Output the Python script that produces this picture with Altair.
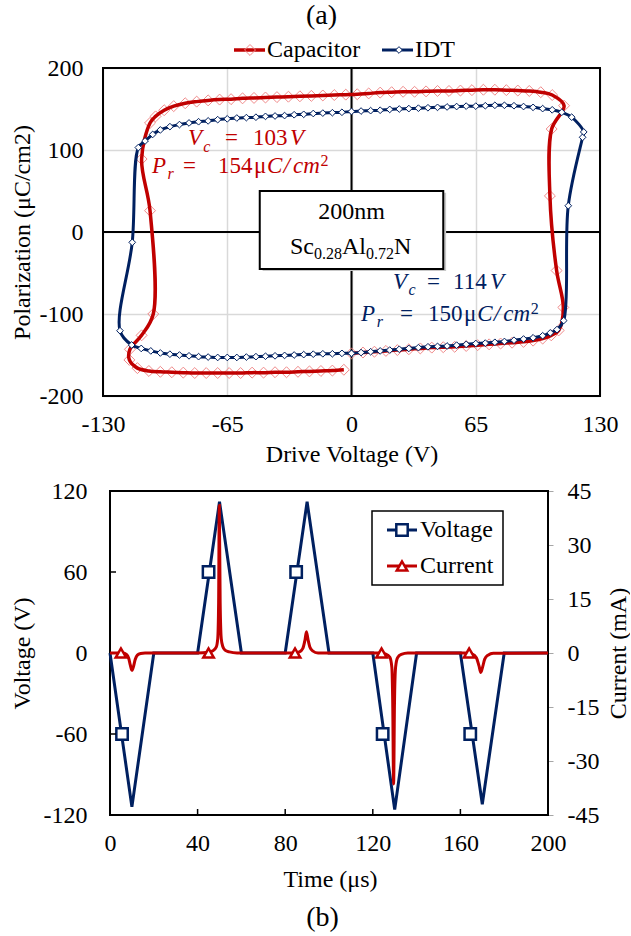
import altair as alt
import pandas as pd

# ---------------- (a) P-V hysteresis loops (measurement order) ----------------
cap_v = [0, 6, 12, 18, 24, 30, 36, 42, 48, 54, 60, 66, 72, 78, 84, 90, 95, 100, 104.5, 108.4,
         110.8, 107.3, 103.8, 104.7, 111.2,
         105, 99, 93, 87, 81, 75, 69, 63, 57, 51, 45, 39, 33, 27, 21, 15, 9, 3, -3, -9, -15,
         -21, -27, -33, -39, -45, -51, -57, -63, -69, -75, -81, -87, -93, -98, -102.5, -105.4,
         -109.8, -105.4, -103.7, -109.8, -115.9, -116.2, -112,
         -106, -100, -94, -88, -82, -76, -70, -64, -58, -52, -46, -40, -34, -28, -22, -16, -10, -4]
cap_p = [-148, -147, -146, -145, -144, -143, -142, -141, -140.5, -140, -139, -138, -137, -136,
         -135, -134, -132.5, -130, -126, -120,
         -92, -47, 44, 125.6, 154,
         167, 170.5, 172, 172.5, 173, 173.5, 173.5, 173, 172.5, 172, 172, 171.5, 171, 171, 170.5,
         170, 169, 168, 167.5, 167, 166.5, 166, 165.5, 165, 164.5, 164, 163.5, 163, 162, 161.5,
         160.5, 159, 157, 153.5, 148.5, 141, 133,
         89, 26, -100, -126, -143, -156, -166,
         -169.5, -170.5, -171, -171.5, -172, -172, -172, -172, -172, -171.5, -171.5, -171, -171,
         -170.5, -170, -169.5, -169, -168]

idt_v = [0, 5, 10, 15, 20, 25, 30, 35, 40, 45, 50, 55, 60, 65, 70, 75, 80, 85, 90, 95, 100, 104,
         107.5, 111, 113.4, 120.9, 121.5, 115.2, 110, 105, 100, 95, 90, 85, 80, 75, 70, 65, 60,
         55, 50, 45, 40, 35, 30, 25, 20, 15, 10, 5, 0, -5, -10, -15, -20, -25, -30, -35, -40,
         -45, -50, -55, -60, -65, -70, -75, -80, -85, -90, -95, -100, -104, -108, -111.5,
         -114.7, -121.1, -115, -110, -105, -100, -95, -90, -85, -80, -75, -70, -65, -60, -55,
         -50, -45, -40, -35, -30, -25, -20, -15, -10, -5, 0]
idt_p = [-148, -147, -146, -145, -144, -143, -142, -141, -140, -139.5, -139, -138, -137, -136,
         -135.5, -134.5, -133.5, -132, -130.5, -129, -126.5, -123,
         -119, -108, 32, 115.5, 122, 140, 146, 149, 150.5, 152, 153, 154, 154.5, 154.5, 154,
         153.5, 153.5, 153, 152.5, 152, 151.5, 151, 150.5, 150, 149.5, 148.5, 148, 147.5, 147,
         146, 145.5, 145, 144.5, 143.5, 143, 142, 141.5, 141, 140, 139.5, 139, 138, 137, 135.5,
         134.5, 133, 131, 128.5, 124.5, 119, 111, 103,
         -12.6, -120.4, -137.8, -142, -145, -147.5, -149, -150, -151, -152, -152.5, -153, -153,
         -153, -152.5, -152, -151.5, -151, -150.5, -150, -149.5, -149, -148.5, -148.5, -148, -148]

# ---------------- (b) waveforms ----------------
volt_t = [0, 10, 20, 40, 50, 60, 80, 90, 100, 120, 130, 140, 160, 170, 180, 200]
volt_v = [0, -114, 0, 0, 112, 0, 0, 112, 0, 0, -116, 0, 0, -112, 0, 0]
vmark_t = [5.5, 45, 85, 124.5, 164.5]
vmark_v = [-60, 60, 60, -60, -60]

cur_t = [0, 6, 7.5, 8.5, 9.3, 10, 10.7, 11.5, 12.5, 14, 16,
         40, 45, 47, 48.5, 49.2, 49.6, 49.9, 50.3, 50.8, 51.5, 52.5, 54.5, 58,
         84, 86.5, 88, 89, 89.7, 90.4, 91.3, 92.5, 95,
         123, 126, 127.8, 128.7, 129.1, 129.5, 129.9, 130.4, 131.3, 133, 136,
         162, 165.5, 167.3, 168.5, 169.3, 170.1, 171.1, 172.6, 175, 200]
cur_i = [0, 0, -0.4, -1.4, -3.4, -4.8, -3.8, -1.8, -0.6, -0.15, 0,
         0, 0.2, 0.6, 1.6, 4, 14, 41, 14, 4, 1.8, 0.8, 0.3, 0,
         0, 0.3, 1.2, 3.5, 5.9, 3.8, 1.6, 0.6, 0,
         0, -0.3, -1.2, -4, -14, -36.4, -14, -4, -1.3, -0.4, 0,
         0, -0.3, -1.3, -3.6, -5.4, -4, -1.7, -0.6, -0.1, 0]
cmark_t = [5, 45, 84.5, 124, 164]
cmark_i = [0, 0, 0, 0, 0]

FONT = "Liberation Serif"
RED = "#c00000"
NAVY = "#002060"
PINK = "#f08a8a"
GRID = "#d9d9d9"
HYPHEN = "replace(datum.label, '\u2212', '-')"

one = pd.DataFrame({"a": [0]})


def ax(**kw):
    base = dict(labelFont=FONT, labelFontSize=24, labelColor="black", titleFont=FONT,
                titleFontSize=24, titleFontWeight="normal", titleColor="black",
                labelFlush=False, labelOverlap=False, labelExpr=HYPHEN)
    base.update(kw)
    return alt.Axis(**base)


# ---------------- top chart ----------------
xs = alt.Scale(domain=[-130, 130], nice=False, zero=False)
ys = alt.Scale(domain=[-200, 200], nice=False, zero=False)
xa = ax(values=[-130, -65, 0, 65, 130], title="Drive Voltage (V)", grid=True, gridColor=GRID,
        gridWidth=1.5, ticks=False, domain=False, labelPadding=16, titleY=58,
        titleBaseline="middle")
ya = ax(values=[-200, -100, 0, 100, 200], title="Polarization (μC/cm2)", grid=True,
        gridColor=GRID, gridWidth=1.5, ticks=False, domain=False, labelPadding=20,
        titleAngle=270, titleX=-81, titleY=164, titleBaseline="middle", titleAlign="center")


def TX(f):
    return alt.X(f"{f}:Q", scale=xs, axis=xa)


def TY(f):
    return alt.Y(f"{f}:Q", scale=ys, axis=ya)


cap_df = pd.DataFrame({"v": cap_v, "p": cap_p})
cap_df["k"] = range(len(cap_df))
idt_df = pd.DataFrame({"v": idt_v, "p": idt_p})
idt_df["k"] = range(len(idt_df))

zero_v = alt.Chart(pd.DataFrame({"v": [0]})).mark_rule(color="black", strokeWidth=2).encode(x=TX("v"))
zero_h = alt.Chart(pd.DataFrame({"p": [0]})).mark_rule(color="black", strokeWidth=2).encode(y=TY("p"))

cap_pts = alt.Chart(cap_df).mark_point(shape="diamond", size=120, filled=False, stroke=PINK,
                                       strokeWidth=1, opacity=1).encode(x=TX("v"), y=TY("p"))
cap_line = alt.Chart(cap_df).mark_line(color=RED, strokeWidth=3.5, interpolate="catmull-rom").encode(
    x=TX("v"), y=TY("p"), order="k:Q")
idt_line = alt.Chart(idt_df).mark_line(color=NAVY, strokeWidth=3, interpolate="catmull-rom").encode(
    x=TX("v"), y=TY("p"), order="k:Q")
idt_pts = alt.Chart(idt_df).mark_point(shape="diamond", size=45, filled=True, fill="white",
                                       stroke=NAVY, strokeWidth=1, opacity=1).encode(x=TX("v"), y=TY("p"))


def T(x, y, s, color="black", size=23, italic=False, align="left"):
    return alt.Chart(one).mark_text(text=s, font=FONT, fontSize=size,
                                    fontStyle="italic" if italic else "normal",
                                    color=color, align=align, baseline="middle").encode(
        x=alt.datum(x), y=alt.datum(y))


shadow = alt.Chart(one).mark_rect(fill="#c8c8c8").encode(
    x=alt.datum(-46.5), x2=alt.datum(49.5), y=alt.datum(-47.5), y2=alt.datum(48))
tbox = alt.Chart(one).mark_rect(fill="white", stroke="black", strokeWidth=2).encode(
    x=alt.datum(-48), x2=alt.datum(48), y=alt.datum(-45), y2=alt.datum(50))

texts = [
    T(0, 24.4, "200nm", size=24, align="center"),
    T(-32.2, -18.3, "Sc", size=24), T(-19.6, -26.8, "0.28", size=16),
    T(-5.0, -18.3, "Al", size=24), T(7.6, -26.8, "0.72", size=16),
    T(22.2, -18.3, "N", size=24),
    # red annotation
    T(-85.5, 114.6, "V", RED, italic=True), T(-77.5, 104.0, "c", RED, size=16, italic=True),
    T(-66.2, 114.6, "=", RED), T(-51.5, 114.6, "103", RED), T(-32.2, 114.6, "V", RED, italic=True),
    T(-104.4, 80.5, "P", RED, italic=True), T(-96.2, 71.0, "r", RED, size=16, italic=True),
    T(-88.1, 80.5, "=", RED), T(-69.8, 80.5, "154", RED), T(-51.0, 80.5, "μ", RED),
    T(-44.2, 80.5, "C", RED, italic=True), T(-35.6, 80.5, "/", RED, italic=True),
    T(-30.6, 80.5, "cm", RED, italic=True), T(-16.2, 86.5, "2", RED, size=16),
    # blue annotation
    T(21.7, -60.4, "V", NAVY, italic=True), T(29.8, -70.5, "c", NAVY, size=16, italic=True),
    T(39.5, -60.4, "=", NAVY), T(53.1, -60.4, "114", NAVY), T(72.5, -60.4, "V", NAVY, italic=True),
    T(5.0, -100.6, "P", NAVY, italic=True), T(13.2, -110.0, "r", NAVY, size=16, italic=True),
    T(25.4, -100.6, "=", NAVY), T(40.0, -100.6, "150", NAVY), T(58.8, -100.6, "μ", NAVY),
    T(65.8, -100.6, "C", NAVY, italic=True), T(74.4, -100.6, "/", NAVY, italic=True),
    T(79.4, -100.6, "cm", NAVY, italic=True), T(93.8, -94.5, "2", NAVY, size=16),
]

leg_a = [
    alt.Chart(one).mark_rule(color=RED, strokeWidth=3.5).encode(
        x=alt.value(131), x2=alt.value(162), y=alt.value(-18)),
    alt.Chart(one).mark_point(shape="diamond", size=120, filled=False, stroke=PINK, strokeWidth=1,
                              opacity=1).encode(x=alt.value(147), y=alt.value(-18)),
    alt.Chart(one).mark_text(text="Capacitor", font=FONT, fontSize=24, align="left",
                             baseline="middle", color="black").encode(x=alt.value(164), y=alt.value(-18)),
    alt.Chart(one).mark_rule(color=NAVY, strokeWidth=3).encode(
        x=alt.value(279), x2=alt.value(310), y=alt.value(-18)),
    alt.Chart(one).mark_point(shape="diamond", size=45, filled=True, fill="white", stroke=NAVY,
                              strokeWidth=1, opacity=1).encode(x=alt.value(296), y=alt.value(-18)),
    alt.Chart(one).mark_text(text="IDT", font=FONT, fontSize=24, align="left",
                             baseline="middle", color="black").encode(x=alt.value(312), y=alt.value(-18)),
]

frame_a = alt.Chart(one).mark_rect(fillOpacity=0, stroke="black", strokeWidth=2).encode(
    x=alt.datum(-130), x2=alt.datum(130), y=alt.datum(-200), y2=alt.datum(200))

top = alt.layer(zero_v, zero_h, shadow, tbox, cap_pts, cap_line, idt_line, idt_pts,
                *texts, *leg_a, frame_a).properties(
    width=497, height=328,
    title=alt.TitleParams("(a)", font=FONT, fontSize=28, fontWeight="normal", color="black",
                          anchor="middle", frame="group", dx=-30, offset=8))

# ---------------- bottom chart ----------------
xbs = alt.Scale(domain=[-3.196, 200], nice=False, zero=False)
yvs = alt.Scale(domain=[-120, 120], nice=False, zero=False)
ycs = alt.Scale(domain=[-45, 45], nice=False, zero=False)
xba = ax(values=[0, 40, 80, 120, 160, 200], title="Time (μs)", ticks=False, domain=False,
         grid=False, labelPadding=16, titleY=64, titleX=227, titleBaseline="middle")
yva = ax(values=[-120, -60, 0, 60, 120], title="Voltage (V)", ticks=False, domain=False,
         grid=False, labelPadding=16, titleAngle=270, titleX=-81, titleY=162,
         titleBaseline="middle", titleAlign="center")
yca = ax(values=[-45, -30, -15, 0, 15, 30, 45], title="Current (mA)", orient="right", ticks=True,
         tickColor="#a6a6a6", tickSize=5, tickWidth=1, domain=False, grid=False, labelPadding=14,
         titleAngle=270, titleX=70, titleY=162, titleBaseline="middle", titleAlign="center")


def BX(f):
    return alt.X(f"{f}:Q", scale=xbs, axis=xba)


volt_df = pd.DataFrame({"t": volt_t, "v": volt_v})
vm_df = pd.DataFrame({"t": vmark_t, "v": vmark_v})
cur_df = pd.DataFrame({"t": cur_t, "i": cur_i})
cm_df = pd.DataFrame({"t": cmark_t, "i": cmark_i})

frame_b = alt.Chart(one).mark_rect(fillOpacity=0, stroke="black", strokeWidth=2).encode(
    x=alt.datum(0), x2=alt.datum(200), y=alt.datum(-120), y2=alt.datum(120))
vline = alt.Chart(volt_df).mark_line(color=NAVY, strokeWidth=3).encode(
    x=BX("t"), y=alt.Y("v:Q", scale=yvs, axis=yva))
vpts = alt.Chart(vm_df).mark_point(shape="square", size=130, filled=True, fill="white", stroke=NAVY,
                                   strokeWidth=2.5, opacity=1).encode(
    x=BX("t"), y=alt.Y("v:Q", scale=yvs, axis=yva))
lticks = alt.Chart(pd.DataFrame({"v": [-60, 0, 60]})).mark_rule(color="black", strokeWidth=1.5).encode(
    y=alt.Y("v:Q", scale=yvs, axis=yva), x=alt.value(7), x2=alt.value(13))
bticks = alt.Chart(pd.DataFrame({"t": [40, 80, 120, 160]})).mark_rule(color="black", strokeWidth=1.5).encode(
    x=BX("t"), y=alt.value(324), y2=alt.value(318))

leg_b = [
    alt.Chart(one).mark_rect(fill="white", stroke="black", strokeWidth=1.5).encode(
        x=alt.value(269), x2=alt.value(400), y=alt.value(20), y2=alt.value(94)),
    alt.Chart(one).mark_rule(color=NAVY, strokeWidth=3).encode(
        x=alt.value(284), x2=alt.value(314), y=alt.value(39)),
    alt.Chart(one).mark_point(shape="square", size=130, filled=True, fill="white", stroke=NAVY,
                              strokeWidth=2.5, opacity=1).encode(x=alt.value(299), y=alt.value(39)),
    alt.Chart(one).mark_text(text="Voltage", font=FONT, fontSize=24, align="left",
                             baseline="middle", color="black").encode(x=alt.value(317), y=alt.value(39)),
    alt.Chart(one).mark_rule(color=RED, strokeWidth=3).encode(
        x=alt.value(284), x2=alt.value(314), y=alt.value(75)),
    alt.Chart(one).mark_point(shape="triangle-up", size=110, filled=True, fill="white", stroke=RED,
                              strokeWidth=2.5, opacity=1).encode(x=alt.value(299), y=alt.value(75)),
    alt.Chart(one).mark_text(text="Current", font=FONT, fontSize=24, align="left",
                             baseline="middle", color="black").encode(x=alt.value(317), y=alt.value(75)),
]

volt_layer = alt.layer(frame_b, vline, vpts, lticks, bticks, *leg_b)

cline = alt.Chart(cur_df).mark_line(color=RED, strokeWidth=3, interpolate="monotone").encode(
    x=BX("t"), y=alt.Y("i:Q", scale=ycs, axis=yca))
cpts = alt.Chart(cm_df).mark_point(shape="triangle-up", size=110, filled=True, fill="white",
                                   stroke=RED, strokeWidth=2.5, opacity=1).encode(
    x=BX("t"), y=alt.Y("i:Q", scale=ycs, axis=yca))
cur_layer = alt.layer(cline, cpts)

bottom = alt.layer(volt_layer, cur_layer).resolve_scale(y="independent").properties(
    width=445, height=324,
    title=alt.TitleParams("(b)", orient="bottom", font=FONT, fontSize=28, fontWeight="normal",
                          color="black", anchor="middle", frame="group", dx=-3, offset=13))

chart = alt.vconcat(top, bottom, spacing=13).configure_view(strokeWidth=0).properties(
    padding={"left": 10, "top": 2, "right": 0, "bottom": 0}, background="white")

chart.save("out.html", embed_options={"renderer": "svg", "actions": False})
